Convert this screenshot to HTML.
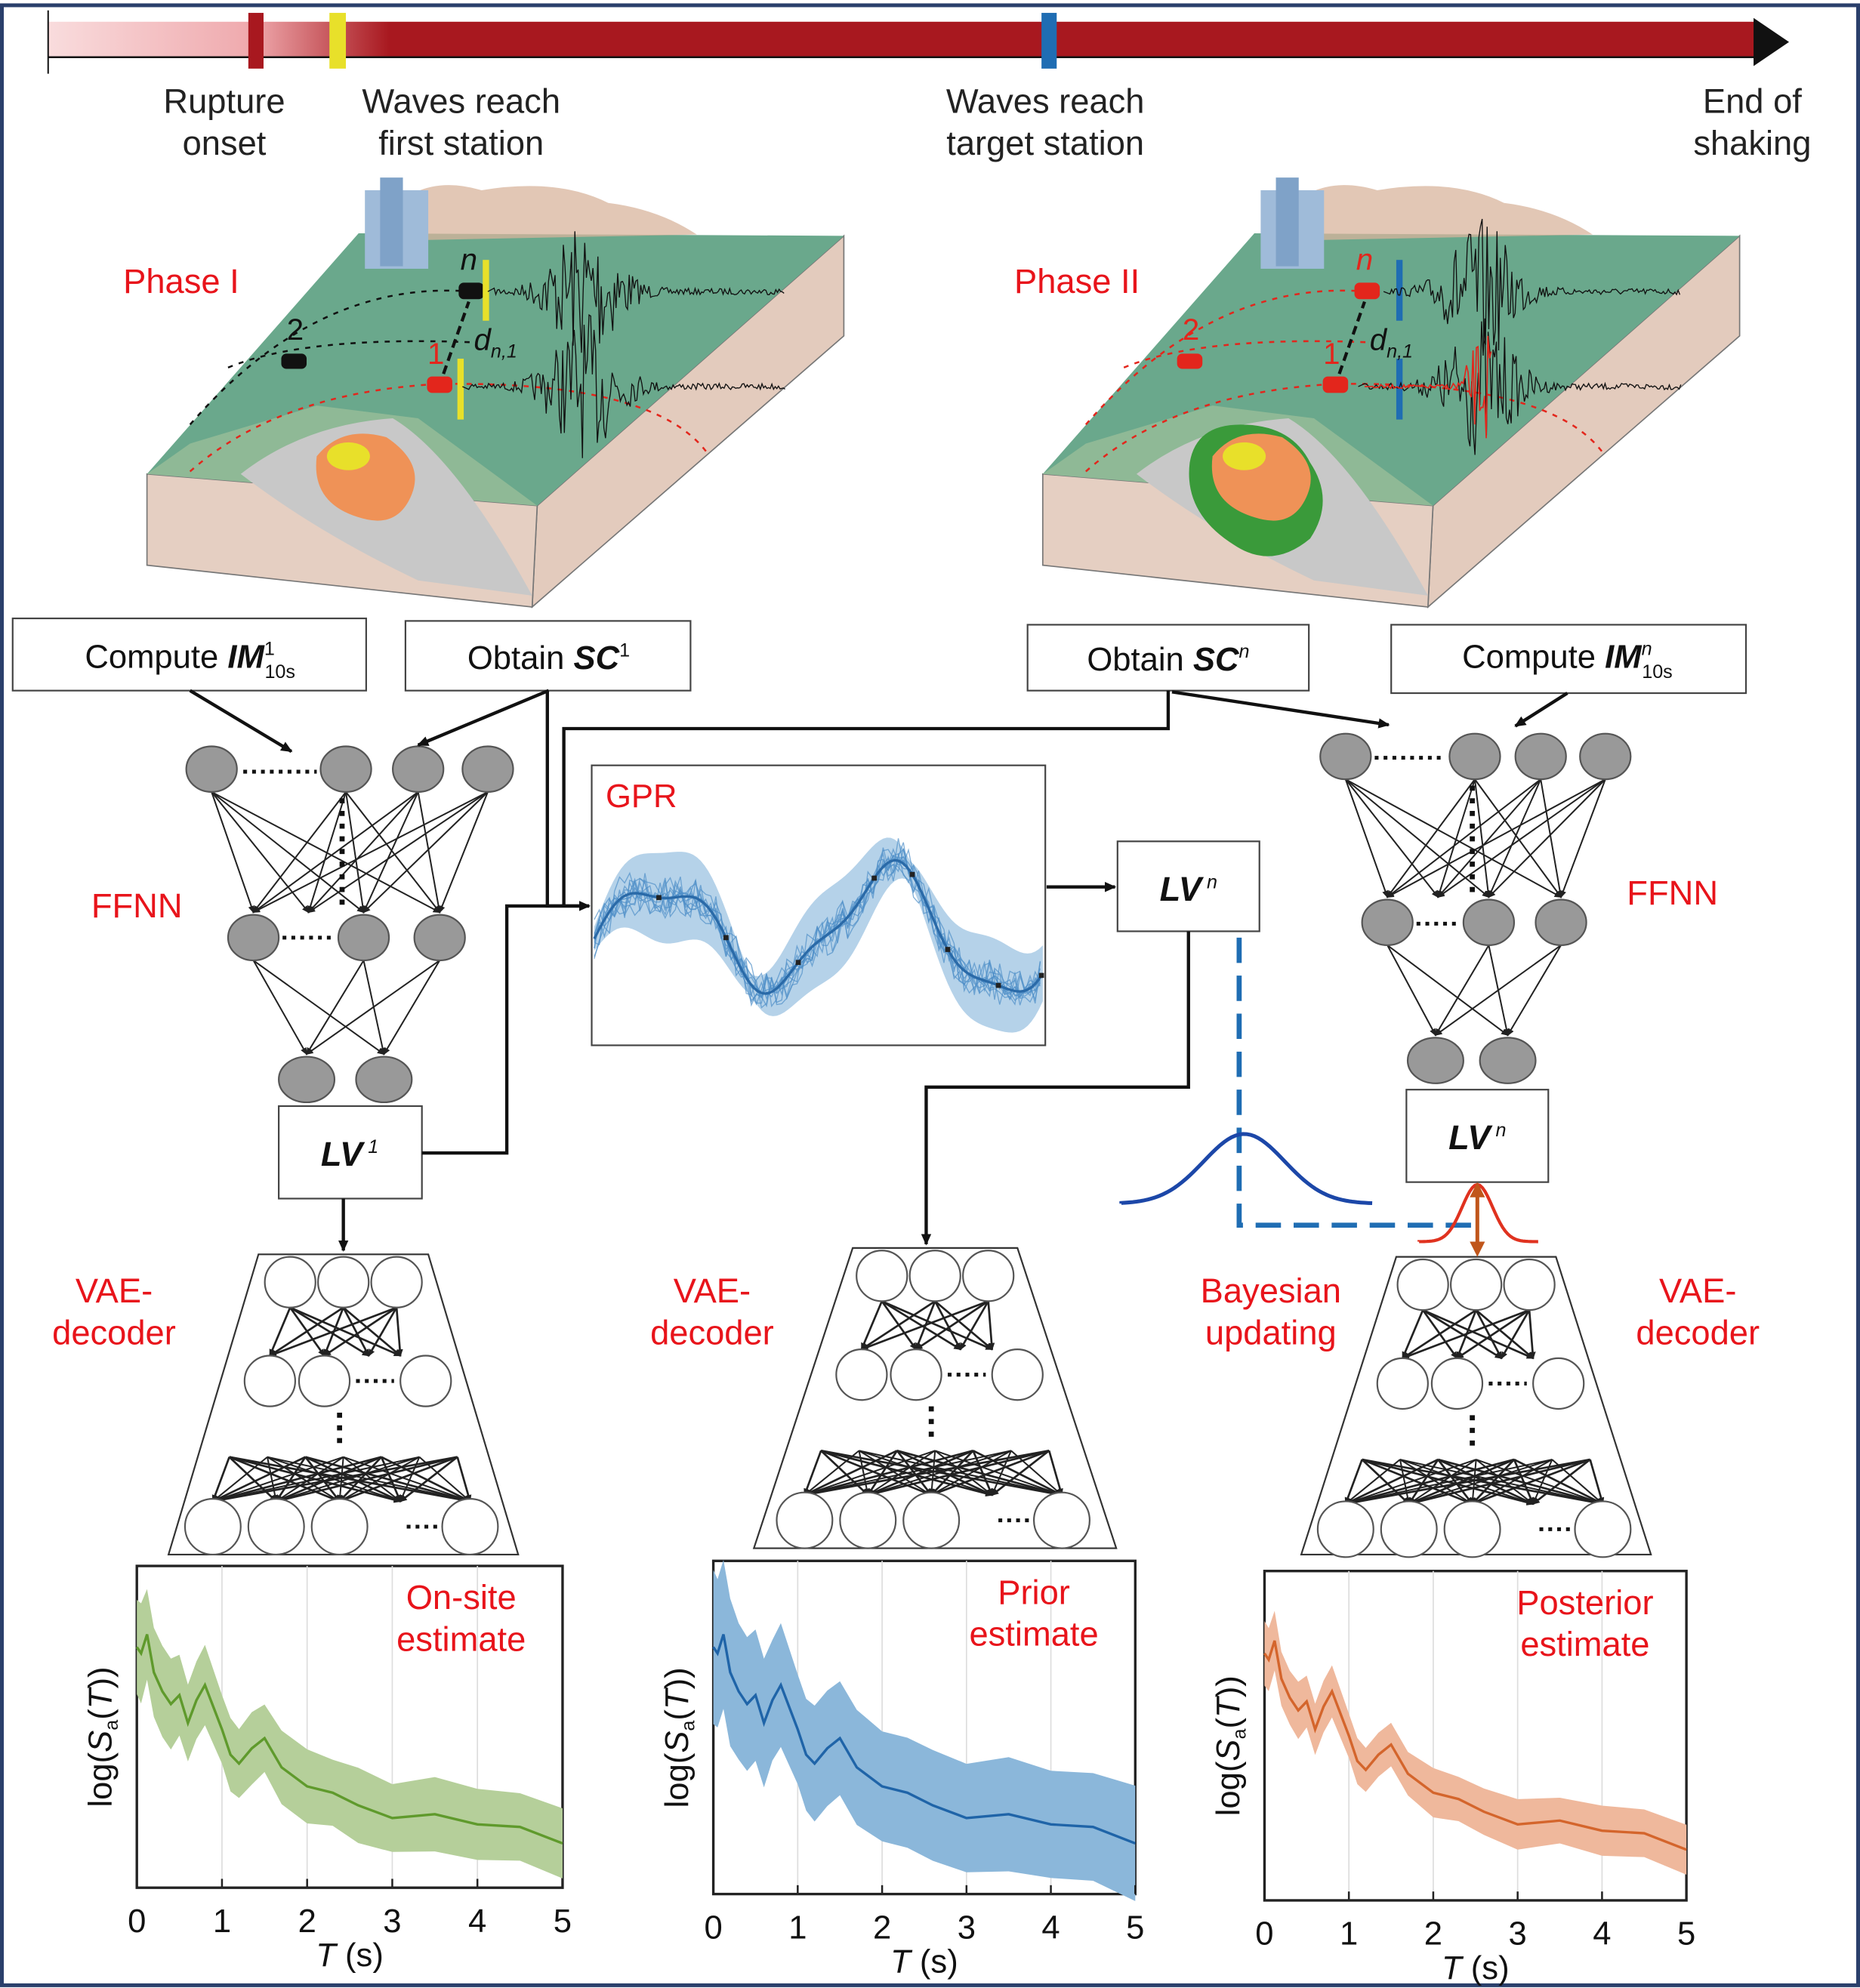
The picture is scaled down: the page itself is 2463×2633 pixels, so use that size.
<!DOCTYPE html>
<html><head><meta charset="utf-8"><style>
html,body{margin:0;padding:0;background:#fff}
svg{display:block}
text{font-family:"Liberation Sans",sans-serif}
.lb{font-size:27px;fill:#222;text-anchor:middle}
.red{font-size:27px;fill:#e8141b;text-anchor:middle}
</style></head><body>
<svg id="s" width="2463" height="2633" viewBox="0 0 1468 1569" xmlns="http://www.w3.org/2000/svg">
<defs>
<linearGradient id="tg" x1="0" x2="1"><stop offset="0" stop-color="#f9dcdd"/><stop offset="0.12" stop-color="#efa9ad"/><stop offset="0.2" stop-color="#a8181f"/></linearGradient>
<marker id="ar" markerWidth="10" markerHeight="10" refX="8" refY="5" orient="auto" markerUnits="userSpaceOnUse"><path d="M0,1 L9,5 L0,9 z" fill="#111"/></marker>
<marker id="as" markerWidth="6" markerHeight="6" refX="5" refY="3" orient="auto" markerUnits="userSpaceOnUse"><path d="M0,0.5 L6,3 L0,5.5 z" fill="#222"/></marker>
</defs>
<rect x="0" y="0" width="1468" height="1569" fill="#fff"/>
<rect x="1.5" y="4" width="1465" height="1563" fill="none" stroke="#2a3f6b" stroke-width="3"/>
<!-- timeline -->
<rect x="38" y="17" width="1348" height="28" fill="url(#tg)"/>
<line x1="38" y1="45" x2="1386" y2="45" stroke="#111" stroke-width="1.5"/>
<line x1="38" y1="8" x2="38" y2="58" stroke="#111" stroke-width="1.2"/>
<path d="M1384,14 L1412,33 L1384,52 z" fill="#111"/>
<rect x="196" y="10" width="12" height="44" fill="#a8181f"/>
<rect x="260" y="10" width="13" height="44" fill="#e8e02a"/>
<rect x="822" y="10" width="12" height="44" fill="#1f6db3"/>
<text class="lb" x="177" y="89">Rupture</text><text class="lb" x="177" y="122">onset</text>
<text class="lb" x="364" y="89">Waves reach</text><text class="lb" x="364" y="122">first station</text>
<text class="lb" x="825" y="89">Waves reach</text><text class="lb" x="825" y="122">target station</text>
<text class="lb" x="1383" y="89">End of</text><text class="lb" x="1383" y="122">shaking</text>
<g id="blk1"></g><g id="blk2"></g>
<text class="red" x="143" y="231">Phase I</text>
<text class="red" x="850" y="231">Phase II</text>
<!-- boxes -->
<g fill="#fff" stroke="#444" stroke-width="1.3">
<rect x="10" y="488" width="279" height="57"/>
<rect x="320" y="490" width="225" height="55"/>
<rect x="811" y="493" width="222" height="52"/>
<rect x="1098" y="493" width="280" height="54"/>
<rect x="220" y="873" width="113" height="73"/>
<rect x="882" y="664" width="112" height="71"/>
<rect x="1110" y="860" width="112" height="73"/>
<rect x="467" y="604" width="358" height="221"/>
</g>
<text x="150" y="527" font-size="26" text-anchor="middle" fill="#111">Compute <tspan font-weight="bold" font-style="italic">IM</tspan><tspan font-size="15" dy="-10">1</tspan><tspan font-size="15" dx="-8" dy="18">10s</tspan></text>
<text x="433" y="528" font-size="26" text-anchor="middle" fill="#111">Obtain <tspan font-weight="bold" font-style="italic">SC</tspan><tspan font-size="15" dy="-10">1</tspan></text>
<text x="922" y="529" font-size="26" text-anchor="middle" fill="#111">Obtain <tspan font-weight="bold" font-style="italic">SC</tspan><tspan font-size="15" font-style="italic" dy="-10">n</tspan></text>
<text x="1237" y="527" font-size="26" text-anchor="middle" fill="#111">Compute <tspan font-weight="bold" font-style="italic">IM</tspan><tspan font-size="15" font-style="italic" dy="-10">n</tspan><tspan font-size="15" dx="-8" dy="18">10s</tspan></text>
<text x="276" y="920" font-size="27" text-anchor="middle" fill="#111" font-weight="bold" font-style="italic">LV<tspan font-size="15" font-weight="normal" dy="-10"> 1</tspan></text>
<text x="938" y="711" font-size="27" text-anchor="middle" fill="#111" font-weight="bold" font-style="italic">LV<tspan font-size="15" font-weight="normal" dy="-10"> n</tspan></text>
<text x="1166" y="907" font-size="27" text-anchor="middle" fill="#111" font-weight="bold" font-style="italic">LV<tspan font-size="15" font-weight="normal" dy="-10"> n</tspan></text>
<text x="478" y="637" font-size="26" fill="#e8141b">GPR</text>
<g id="gpr"></g>
<g id="nets"></g>
<!-- connectors -->
<g fill="none" stroke="#111" stroke-width="2.6">
<line x1="150" y1="545" x2="230" y2="593" marker-end="url(#ar)"/>
<line x1="433" y1="545" x2="330" y2="588" marker-end="url(#ar)"/>
<polyline points="432,545 432,715 465,715" marker-end="url(#ar)"/>
<polyline points="445,715 445,575 922,575 922,545"/>
<polyline points="333,910 400,910 400,715 465,715" marker-end="url(#ar)"/>
<line x1="925" y1="546" x2="1096" y2="572" marker-end="url(#ar)"/>
<line x1="1237" y1="547" x2="1196" y2="573" marker-end="url(#ar)"/>
<line x1="826" y1="700" x2="880" y2="700" marker-end="url(#ar)"/>
<polyline points="938,735 938,858 731,858 731,982" marker-end="url(#ar)"/>
<line x1="271" y1="946" x2="271" y2="987" marker-end="url(#ar)"/>
</g>
<polyline points="978,740 978,967 1165,967" fill="none" stroke="#1f6db3" stroke-width="4" stroke-dasharray="20,10"/>
<path id="bg" fill="none" stroke="#1c47a8" stroke-width="3"/>
<path id="rg" fill="none" stroke="#e0321f" stroke-width="2.5"/>
<line x1="1166" y1="937" x2="1166" y2="985" stroke="#c0561b" stroke-width="3"/>
<path d="M1160,945 L1166,933 L1172,945 z M1160,980 L1166,992 L1172,980 z" fill="#c0561b"/>
<text class="red" x="90" y="1028">VAE-</text><text class="red" x="90" y="1061">decoder</text>
<text class="red" x="562" y="1028">VAE-</text><text class="red" x="562" y="1061">decoder</text>
<text class="red" x="1003" y="1028">Bayesian</text><text class="red" x="1003" y="1061">updating</text>
<text class="red" x="1340" y="1028">VAE-</text><text class="red" x="1340" y="1061">decoder</text>
<text class="red" x="108" y="724">FFNN</text>
<text class="red" x="1320" y="714">FFNN</text>
<g id="plots"></g>
</svg>
<script>
const NS="http://www.w3.org/2000/svg";
function el(p,t,a){const e=document.createElementNS(NS,t);for(const k in a)e.setAttribute(k,a[k]);p.appendChild(e);return e;}
let seed=7;function rnd(){seed=(seed*16807)%2147483647;return seed/2147483647;}
function block(g,dx,ph2){
 const P=(pts)=>pts.map(p=>(p[0]+dx)+","+p[1]).join(" ");
 el(g,"polygon",{points:P([[424,399],[666,186],[666,265],[420,479]]),fill:"#e3cbbd",stroke:"#777","stroke-width":1});
 el(g,"polygon",{points:P([[116,374],[424,399],[420,479],[116,446]]),fill:"#e5cfc2",stroke:"#777","stroke-width":1});
 el(g,"polygon",{points:P([[116,374],[283,184],[666,186],[424,399]]),fill:"#6aa88c"});
 el(g,"polygon",{points:P([[150,350],[250,320],[330,330],[424,399],[116,374]]),fill:"#9fc09a",opacity:0.7});
 el(g,"path",{d:`M${190+dx},374 Q${240+dx},335 ${310+dx},330 Q${360+dx},360 ${420+dx},470 L${330+dx},458 Q${250+dx},420 ${190+dx},374z`,fill:"#c8c8c8"});
 el(g,"path",{d:`M${300+dx},175 Q${330+dx},135 ${380+dx},150 Q${440+dx},140 ${480+dx},160 Q${520+dx},165 ${550+dx},185 L${300+dx},190z`,fill:"#d8b49c",opacity:0.75});
 el(g,"rect",{x:288+dx,y:150,width:50,height:62,fill:"#9fbbd9"});
 el(g,"rect",{x:300+dx,y:140,width:18,height:70,fill:"#7fa2c8"});
 if(ph2) el(g,"path",{d:`M${232+dx},365 q5,-30 40,-30 q40,0 55,30 q20,30 0,60 q-30,25 -60,5 q-40,-25 -35,-65z`,fill:"#3a9a3a"});
 el(g,"path",{d:`M${250+dx},360 q20,-25 55,-15 q30,20 20,45 q-10,25 -35,20 q-45,-10 -40,-50z`,fill:"#ef9257"});
 el(g,"ellipse",{cx:275+dx,cy:360,rx:17,ry:11,fill:"#e8e02a"});
 const c=ph2?"#e3261c":"#111";
 el(g,"path",{d:`M${150+dx},335 Q${250+dx},220 ${372+dx},230`,fill:"none",stroke:c,"stroke-dasharray":"4,5","stroke-width":1.5});
 el(g,"path",{d:`M${150+dx},372 Q${220+dx},310 ${345+dx},303 Q${520+dx},300 ${560+dx},360`,fill:"none",stroke:"#e3261c","stroke-dasharray":"4,5","stroke-width":1.5});
 el(g,"path",{d:`M${180+dx},290 Q${240+dx},265 ${372+dx},270`,fill:"none",stroke:c,"stroke-dasharray":"4,5","stroke-width":1.5});
 el(g,"rect",{x:222+dx,y:279,width:20,height:12,rx:4,fill:ph2?"#e3261c":"#111"});
 el(g,"rect",{x:362+dx,y:223,width:20,height:13,rx:4,fill:ph2?"#e3261c":"#111"});
 el(g,"rect",{x:337+dx,y:297,width:20,height:13,rx:4,fill:"#e3261c"});
 el(g,"line",{x1:350+dx,y1:295,x2:370+dx,y2:238,stroke:"#111","stroke-width":2.5,"stroke-dasharray":"7,4"});
 const mk=ph2?"#1f6db3":"#e8e02a";
 el(g,"rect",{x:(ph2?395:381)+dx,y:205,width:5,height:48,fill:mk});
 el(g,"rect",{x:(ph2?395:361)+dx,y:283,width:5,height:48,fill:mk});
 for(const [y0,x0,col] of [[230,385,"#111"],[305,365,ph2?"#e3261c":"#111"]]){
  let d=`M${x0+dx},${y0}`;
  for(let x=x0+5;x<620;x+=1.3){const t=(x-462);const a=Math.exp(-t*t/900)*55+2.5;d+=` L${x+dx},${y0+(rnd()*2-1)*a}`;}
  el(g,"path",{d,fill:"none",stroke:"#111","stroke-width":0.8});
  if(col!="#111"){let d2=`M${x0+dx+5},${y0}`;for(let x=x0+10;x<470;x+=1.3){const t=x-465;const a=Math.exp(-t*t/200)*45+1.5;d2+=` L${x+dx},${y0+(rnd()*2-1)*a}`;}el(g,"path",{d:d2,fill:"none",stroke:col,"stroke-width":1});}
 }
 el(g,"text",{x:370+dx,y:213,"font-size":24,"font-style":"italic",fill:c,"text-anchor":"middle"}).textContent="n";
 el(g,"text",{x:233+dx,y:268,"font-size":24,fill:c,"text-anchor":"middle"}).textContent="2";
 el(g,"text",{x:344+dx,y:287,"font-size":24,fill:"#e3261c","text-anchor":"middle"}).textContent="1";
 const t=el(g,"text",{x:374+dx,y:276,"font-size":24,"font-style":"italic",fill:"#111"});t.innerHTML='d<tspan font-size="15" dy="6">n,1</tspan>';
}
block(document.getElementById("blk1"),0,false);
block(document.getElementById("blk2"),707,true);
const N=document.getElementById("nets");
function layer(xs,y,rx,ry,fill){xs.forEach(x=>el(N,"ellipse",{cx:x,cy:y,rx,ry,fill,stroke:"#555","stroke-width":1.3}));}
function edges(a,ya,b,yb,w){a.forEach(x1=>b.forEach(x2=>el(N,"line",{x1,y1:ya,x2,y2:yb,stroke:"#222","stroke-width":w||1.2,"marker-end":"url(#as)"})));}
function dots(x1,x2,y){el(N,"line",{x1,y1:y,x2,y2:y,stroke:"#111","stroke-width":3,"stroke-dasharray":"3,4"});}
function vdots(x,y1,y2){el(N,"line",{x1:x,y1,x2:x,y2,stroke:"#111","stroke-width":4,"stroke-dasharray":"4,6"});}
function ffnn(t,ty,m,my,b,by){
 edges(t,ty+18,m.concat([ (m[0]+m[1])/2 ]),my-20);
 edges(m,my+18,b,by-20);
 layer(t,ty,20,18,"#999");layer(m,my,20,18,"#999");layer(b,by,22,18,"#999");
}
ffnn([167,273,330,385],607,[200,287,347],740,[242,303],852);
dots(192,250,609);dots(223,264,740);vdots(270,630,718);
ffnn([1062,1164,1216,1267],597,[1095,1175,1232],728,[1133,1190],837);
dots(1085,1140,598);dots(1118,1150,729);vdots(1162,620,706);
function vae(cx,top,bot,tw,bw){
 el(N,"polygon",{points:`${cx-tw},${top} ${cx+tw},${top} ${cx+bw},${bot} ${cx-bw},${bot}`,fill:"#fff",stroke:"#333","stroke-width":1.3});
 const r1=[cx-42,cx,cx+42],y1=top+22;
 const r2=[cx-58,cx-15,cx+65],y2=top+100;
 const h=[cx-90,cx-60,cx-30,cx,cx+30,cx+60,cx+90],yh=top+160;
 const r3=[cx-103,cx-53,cx-3,cx+45,cx+100],y3=top+215;
 edges(r1,y1+20,[cx-58,cx-15,cx+20,cx+45],y2-20,1.6);
 edges(h.filter((_,i)=>i%2==0),yh,r3,y3-20,1.6);
 edges([cx-60,cx,cx+60],yh,[cx-103,cx-53,cx-3,cx+45,cx+100],y3-20,1.2);
 r1.forEach(x=>el(N,"circle",{cx:x,cy:y1,r:20,fill:"#fff",stroke:"#555","stroke-width":1.3}));
 r2.forEach(x=>el(N,"circle",{cx:x,cy:y2,r:20,fill:"#fff",stroke:"#555","stroke-width":1.3}));
 [cx-103,cx-53,cx-3,cx+100].forEach(x=>el(N,"circle",{cx:x,cy:y3,r:22,fill:"#fff",stroke:"#555","stroke-width":1.3}));
 dots(cx+10,cx+40,y2);dots(cx+50,cx+78,y3);vdots(cx-3,y2+25,yh-5);
}
vae(271,990,1227,67,138);vae(738,985,1222,65,143);vae(1165,992,1227,63,138);
let bd="M885,950";for(let x=885;x<=1085;x+=3){bd+=` L${x},${950-55*Math.exp(-Math.pow(x-982,2)/(2*32*32))}`;}document.getElementById("bg").setAttribute("d",bd);
let rd="M1120,980";for(let x=1120;x<=1215;x+=2){rd+=` L${x},${980-45*Math.exp(-Math.pow(x-1166,2)/(2*12*12))}`;}document.getElementById("rg").setAttribute("d",rd);
const G=document.getElementById("gpr");
function f(x){const t=(x-467)/358;return 735-55*Math.sin(t*12.5-0.3)*(0.6+0.4*t)-10*Math.sin(t*30);}
let up="",lo="";for(let x=469;x<=823;x+=3){const w=8+28*Math.abs(Math.sin((x-467)/40));up+=`${x},${f(x)-w} `;lo=`${x},${f(x)+w} `+lo;}
el(G,"polygon",{points:up+lo,fill:"#9cc3e2",opacity:0.75});
for(let k=0;k<12;k++){let d="";for(let x=469;x<=823;x+=4){d+=`${x},${f(x)+(rnd()*2-1)*18*Math.abs(Math.sin((x-467)/40+k))} `;}el(G,"polyline",{points:d,fill:"none",stroke:"#4f8fc7","stroke-width":0.8,opacity:0.7});}
let md="";for(let x=469;x<=823;x+=3)md+=`${x},${f(x)} `;el(G,"polyline",{points:md,fill:"none",stroke:"#2a6aa8","stroke-width":2});
[520,573,630,690,720,748,788,822].forEach(x=>el(G,"rect",{x:x-2,y:f(x)-2,width:4,height:4,fill:"#222"}));
const PL=document.getElementById("plots");
const meanPts=[[0,1300],[0.05,1305],[0.12,1290],[0.2,1320],[0.3,1335],[0.4,1345],[0.5,1338],[0.6,1360],[0.7,1342],[0.8,1330],[1.0,1365],[1.1,1385],[1.2,1392],[1.35,1380],[1.5,1372],[1.7,1395],[2.0,1410],[2.3,1415],[2.6,1425],[3,1435],[3.5,1432],[4,1440],[4.5,1442],[5,1455]];
function plot(x0,y0,x1,y1,fillc,linec,bandw,label,dy){
 el(PL,"rect",{x:x0,y:y0,width:x1-x0,height:y1-y0,fill:"#fff",stroke:"#222","stroke-width":2});
 const sx=(x1-x0)/5;
 for(let i=1;i<5;i++)el(PL,"line",{x1:x0+i*sx,y1:y0,x2:x0+i*sx,y2:y1,stroke:"#ddd","stroke-width":1});
 let u="",l="",m="";
 for(let i=0;i<meanPts.length;i++){const [t,v]=meanPts[i];const x=x0+t*sx;const w=bandw*(t<1?1.4-0.4*t:1)+(rnd()*4);u+=`${x},${v+dy-w} `;l=`${x},${v+dy+w} `+l;m+=`${x},${v+dy} `;}
 el(PL,"polygon",{points:u+l,fill:fillc});
 el(PL,"polyline",{points:m,fill:"none",stroke:linec,"stroke-width":2});
 for(let i=0;i<=5;i++){el(PL,"line",{x1:x0+i*sx,y1:y1,x2:x0+i*sx,y2:y1-7,stroke:"#222","stroke-width":1.5});el(PL,"text",{x:x0+i*sx,y:y1+35,"font-size":26,"text-anchor":"middle",fill:"#111"}).textContent=i;}
 const tt=el(PL,"text",{x:(x0+x1)/2,y:y1+62,"font-size":26,"text-anchor":"middle",fill:"#111"});tt.innerHTML='<tspan font-style="italic">T</tspan> (s)';
 const yl=el(PL,"text",{x:0,y:0,"font-size":26,"text-anchor":"middle",fill:"#111",transform:`translate(${x0-20},${(y0+y1)/2+8}) rotate(-90)`});yl.innerHTML='log(<tspan font-style="italic">S</tspan><tspan font-size="15" dy="5">a</tspan><tspan dy="-5">(</tspan><tspan font-style="italic">T</tspan>))';
 const lb=label.split("|");
 el(PL,"text",{x:x1-80,y:y0+34,"font-size":27,"text-anchor":"middle",fill:"#e8141b"}).textContent=lb[0];
 el(PL,"text",{x:x1-80,y:y0+67,"font-size":27,"text-anchor":"middle",fill:"#e8141b"}).textContent=lb[1];
}
plot(108,1236,444,1490,"#b5cf9a","#5f9a2c",26,"On-site|estimate",0);
plot(563,1232,896,1495,"#8bb7da","#1f64a8",42,"Prior|estimate",0);
plot(998,1240,1331,1500,"#efb89c","#d4652c",16,"Posterior|estimate",5);
</script>
</body></html>
